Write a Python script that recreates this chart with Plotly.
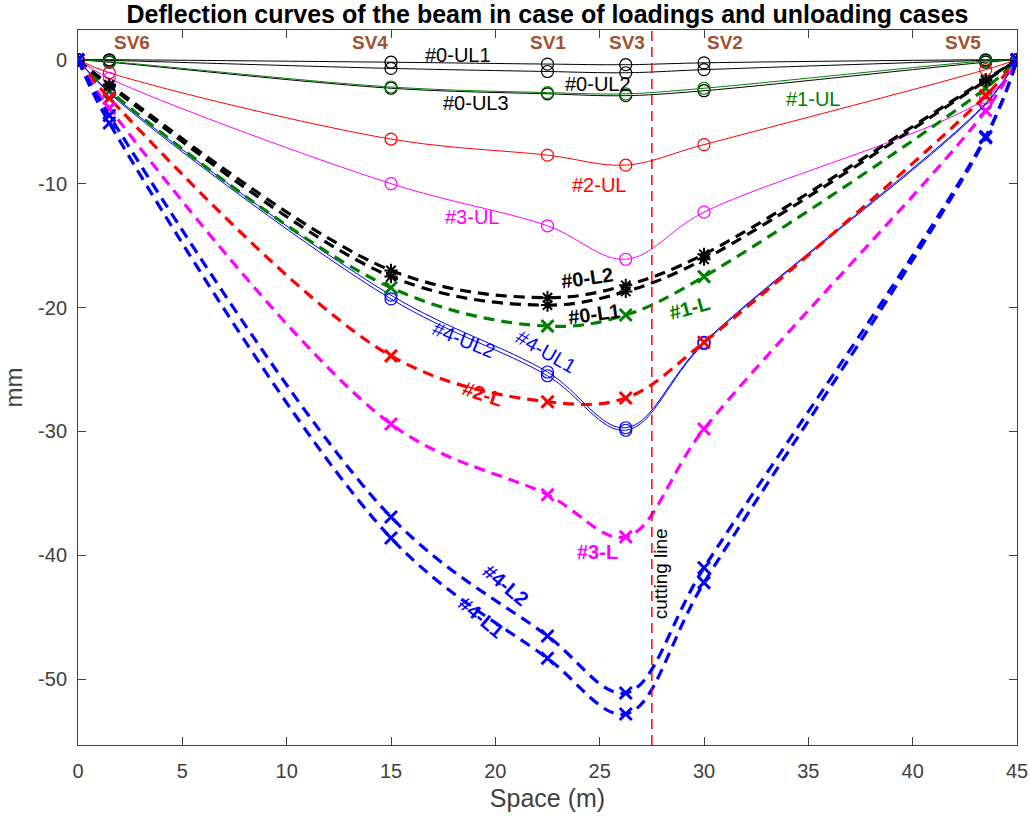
import plotly.graph_objects as go

# Positions of measuring stations along the beam (m)
x_pos = [0, 1.5, 15, 22.5, 26.25, 30, 43.5, 45]

# Unloading cases (mm)
ul0_1 = [0, 0, -0.2, -0.35, -0.4, -0.25, 0, 0]
ul0_2 = [0, -0.05, -0.7, -0.95, -1.05, -0.8, -0.05, 0]
ul0_3 = [0, -0.2, -2.3, -2.75, -2.9, -2.5, -0.2, 0]
ul1 = [0, -0.15, -2.2, -2.65, -2.75, -2.3, -0.1, 0]
ul2 = [0, -1.05, -6.4, -7.7, -8.5, -6.85, -0.8, 0]
ul3 = [0, -1.5, -10.0, -13.4, -16.1, -12.3, -3.1, 0]
ul4_2 = [0, -2.6, -19.0, -25.2, -29.7, -22.8, -3.5, 0]
ul4_1 = [0, -2.7, -19.3, -25.5, -29.9, -22.9, -3.6, 0]

# Loading cases (mm)
l0_2 = [0, -2.0, -17.0, -19.2, -18.2, -15.7, -1.6, 0]
l0_1 = [0, -2.1, -17.5, -19.8, -18.7, -16.1, -1.7, 0]
l1 = [0, -2.5, -18.4, -21.5, -20.6, -17.5, -2.3, 0]
l2 = [0, -3.1, -23.9, -27.6, -27.3, -22.8, -2.9, 0]
l3 = [0, -3.9, -29.4, -35.1, -38.5, -29.8, -4.1, 0]
l4_2 = [0, -4.5, -36.9, -46.5, -51.1, -41.0, -6.2, 0]
l4_1 = [0, -5.1, -38.6, -48.3, -52.8, -42.2, -6.3, 0]

x_ticks = [0, 5, 10, 15, 20, 25, 30, 35, 40, 45]
y_ticks = [0, -10, -20, -30, -40, -50]
y_tick_text = ["0", "-10", "-20", "-30", "-40", "-50"]

sv_labels = ["SV6", "SV4", "SV1", "SV3", "SV2", "SV5"]
sv_label_x = [2.6, 14.0, 22.5, 26.3, 31.0, 42.4]
cut_x = 27.5

BLACK = "#000000"
GREEN = "#008000"
RED = "#ff0000"
MAG = "#ff00ff"
BLUE = "#0000ff"
SV_COLOR = "#a0522d"
AX = "#404040"

fig = go.Figure()

def ul_trace(y, color):
    fig.add_trace(go.Scatter(
        x=x_pos, y=y, mode="lines+markers",
        line=dict(color=color, width=1, shape="spline", smoothing=1),
        marker=dict(symbol="circle-open", size=12, color=color, line=dict(width=1.2, color=color)),
        showlegend=False, hoverinfo="skip"))

def l_trace(y, color, symbol="x-thin-open", size=12, mw=3):
    fig.add_trace(go.Scatter(
        x=x_pos, y=y, mode="lines+markers",
        line=dict(color=color, width=3.2, dash="11px,7px", shape="spline", smoothing=1),
        marker=dict(symbol=symbol, size=size, color=color, line=dict(width=mw, color=color)),
        showlegend=False, hoverinfo="skip"))

ul_trace(ul0_1, BLACK)
ul_trace(ul0_2, BLACK)
ul_trace(ul0_3, BLACK)
ul_trace(ul1, GREEN)
ul_trace(ul2, RED)
ul_trace(ul3, MAG)
ul_trace(ul4_2, BLUE)
ul_trace(ul4_1, BLUE)

l_trace(l1, GREEN)
l_trace(l0_2, BLACK, "asterisk-open", 11, 2)
l_trace(l0_1, BLACK, "asterisk-open", 11, 2)
l_trace(l2, RED)
l_trace(l3, MAG)
l_trace(l4_2, BLUE)
l_trace(l4_1, BLUE)

# cutting line
fig.add_shape(type="line", x0=cut_x, x1=cut_x, y0=0, y1=1, xref="x", yref="paper",
              line=dict(color=RED, width=1.5, dash="10px,6px"))

FONT = "Liberation Sans"

for name, xv in zip(sv_labels, sv_label_x):
    fig.add_annotation(x=xv, y=1.4, text="<b>%s</b>" % name, showarrow=False,
                       font=dict(family=FONT, size=19, color=SV_COLOR))

labels = [
    ("#0-UL1", 18.2, 0.4, 0, BLACK, False),
    ("#0-UL2", 24.9, -1.95, 0, BLACK, False),
    ("#0-UL3", 19.05, -3.5, 0, BLACK, False),
    ("#1-UL", 35.2, -3.15, 0, GREEN, False),
    ("#2-UL", 24.95, -10.1, 0, RED, False),
    ("#3-UL", 18.86, -12.7, 0, MAG, False),
    ("#0-L2", 24.4, -17.6, -8, BLACK, True),
    ("#0-L1", 24.75, -20.5, -8, BLACK, True),
    ("#1-L", 29.3, -20.0, -15, GREEN, True),
    ("#4-UL2", 18.5, -22.6, 22, BLUE, False),
    ("#4-UL1", 22.45, -23.6, 30, BLUE, False),
    ("#2-L", 19.4, -27.0, 18, RED, True),
    ("#3-L", 24.9, -39.75, 0, MAG, True),
    ("#4-L2", 20.5, -42.35, 40, BLUE, True),
    ("#4-L1", 19.3, -45.0, 40, BLUE, True),
]
for txt, xv, yv, ang, col, bold in labels:
    fig.add_annotation(x=xv, y=yv, text=("<b>%s</b>" % txt) if bold else txt,
                       showarrow=False, textangle=ang,
                       font=dict(family=FONT, size=20, color=col))

fig.add_annotation(x=27.95, y=-41.5, text="cutting line", showarrow=False, textangle=-90,
                   font=dict(family=FONT, size=19, color=BLACK))

axis_common = dict(showline=True, linecolor=AX, linewidth=1, mirror="ticks",
                   ticks="inside", ticklen=8, tickcolor=AX, showgrid=False, zeroline=False,
                   automargin=False,
                   tickfont=dict(family=FONT, size=20, color=AX))

fig.update_layout(
    width=1030, height=821,
    margin=dict(l=78, r=13, t=30, b=76),
    paper_bgcolor="white", plot_bgcolor="white",
    title=dict(text="<b>Deflection curves of the beam in case of loadings and unloading cases</b>",
               x=0.5, xanchor="center", xref="paper", y=0.983, yanchor="middle", yref="container",
               font=dict(family=FONT, size=25, color="black")),
    xaxis=dict(range=[0, 45], tickvals=x_ticks,
               ticklabelstandoff=8,
               title=dict(text="Space (m)", font=dict(family=FONT, size=25, color=AX), standoff=8),
               **axis_common),
    yaxis=dict(range=[-55.3, 2.4], tickvals=y_ticks, ticktext=y_tick_text,
               ticklabelstandoff=6,
               title=dict(text="mm", font=dict(family=FONT, size=24, color=AX), standoff=8),
               **axis_common),
)

fig.write_html("out.html", config={"displayModeBar": False},
               post_script="document.body.style.margin='0';document.body.style.overflow='hidden';")
